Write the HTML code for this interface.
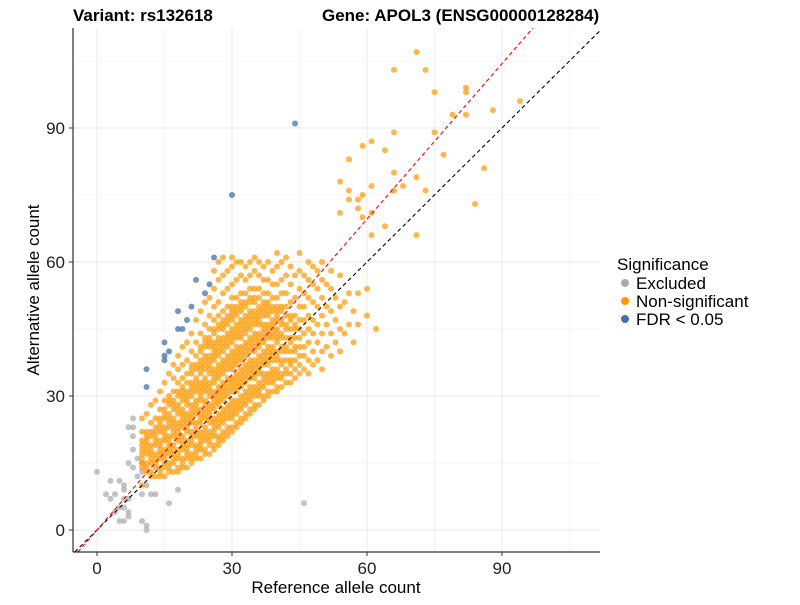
<!DOCTYPE html>
<html><head><meta charset="utf-8"><style>
body{margin:0;background:#fff;font-family:"Liberation Sans",sans-serif}
svg text{font-family:"Liberation Sans",sans-serif}
</style></head><body>
<svg id="chart" width="800" height="600" viewBox="0 0 800 600" xmlns="http://www.w3.org/2000/svg">
<text x="73" y="21" font-size="17" font-weight="bold">Variant: rs132618</text>
<text x="322" y="21" font-size="17" font-weight="bold">Gene: APOL3 (ENSG00000128284)</text>
<g id="grid"></g>
<g id="pts"></g>
<g id="lines"></g>
<g id="axes"></g>
<text x="336" y="593" font-size="17" text-anchor="middle">Reference allele count</text>
<text transform="translate(39,290) rotate(-90)" font-size="17" text-anchor="middle">Alternative allele count</text>
<g>
<text x="617" y="270" font-size="17">Significance</text>
<g><circle cx="625" cy="283" r="4" fill="#aaaaaa"/><text x="636" y="289" font-size="17">Excluded</text></g>
<g><circle cx="625" cy="301" r="4" fill="#ff9900"/><text x="636" y="307" font-size="17">Non-significant</text></g>
<g><circle cx="625" cy="319" r="4" fill="#4471a8"/><text x="636" y="325" font-size="17">FDR &lt; 0.05</text></g>
</g>
</svg>
<script>
const xTicks=[0,30,60,90];
const yTicks=[0,30,60,90];
const minorTicks=[15,45,75,105];
const orangeCols=[
[10,[10,14,15,16,17,18,19,20,22,25]],
[11,[13,14,15,17,18,19,20,21,22,26]],
[12,[12,13,15,16,17,18,19,21,22,24,28]],
[13,[12,14,15,16,17,19,20,21,22,23,25,29]],
[14,[12,13,14,16,17,18,19,20,22,23,24,25,27,31]],
[15,[12,14,15,16,17,18,20,21,22,23,25,26,27,29,33]],
[16,[13,14,15,17,18,19,20,21,23,24,25,26,28,29,30,35]],
[17,[13,15,16,17,18,19,21,22,23,24,25,27,28,29,31,34,37]],
[18,[13,14,16,17,18,20,21,22,23,24,26,27,28,30,31,33,36,39]],
[19,[14,15,16,18,19,20,21,23,24,25,26,27,29,30,31,32,34,37,41]],
[20,[14,16,17,18,19,20,22,23,24,25,26,28,29,30,31,33,35,38,42]],
[21,[15,16,17,19,20,21,22,24,25,26,27,28,30,31,32,33,35,36,37,40,44]],
[22,[16,17,18,19,21,22,23,24,26,27,28,29,31,32,33,34,36,37,39,42,47]],
[23,[16,18,19,20,21,22,24,25,26,27,29,30,31,32,33,35,36,37,38,40,41,44,49]],
[24,[17,18,20,21,22,23,25,26,27,28,29,31,32,33,34,36,37,38,39,41,42,43,46,51]],
[25,[17,19,20,21,22,24,25,26,27,28,30,31,32,33,35,36,37,38,39,41,42,43,45,48,52]],
[26,[18,19,21,22,23,24,25,27,28,29,30,31,33,34,35,36,38,39,40,41,42,44,45,47,50,54,58]],
[27,[19,20,21,23,24,25,26,28,29,30,31,32,34,35,36,37,39,40,41,42,43,45,46,48,51,56,60]],
[28,[20,21,22,24,25,26,27,29,30,31,32,33,35,36,37,38,40,41,42,43,45,46,47,49,53,57,61]],
[29,[21,22,23,25,26,27,28,30,31,32,33,34,36,37,38,39,41,42,43,44,46,47,48,50,54,58]],
[30,[22,23,25,26,27,28,29,31,32,33,34,36,37,38,39,40,42,43,44,45,47,48,49,50,52,55,59,61]],
[31,[23,24,26,27,28,29,31,32,33,34,35,37,38,39,40,41,43,44,45,46,48,49,50,52,56,60]],
[32,[24,25,27,28,29,30,32,33,34,35,36,38,39,40,41,43,44,45,46,47,49,50,51,53,57,60]],
[33,[25,26,28,29,30,31,33,34,35,36,37,39,40,41,42,44,45,46,47,48,50,51,53,56,59]],
[34,[26,27,29,30,31,32,34,35,36,37,38,40,41,42,43,45,46,47,48,49,51,52,54,57,60]],
[35,[27,28,30,31,32,34,35,36,37,38,40,41,42,43,44,46,47,48,49,51,52,54,58,61]],
[36,[28,30,31,32,33,35,36,37,38,39,41,42,43,44,46,47,48,49,50,52,54,57,60]],
[37,[29,30,32,33,34,35,37,38,39,40,42,43,44,45,46,48,49,50,51,53,56,59]],
[38,[30,31,33,34,35,37,38,39,40,41,43,44,45,46,48,49,50,51,53,56,60]],
[39,[31,33,34,35,36,38,39,40,41,43,44,45,46,47,49,50,52,55,58]],
[40,[31,32,34,35,36,38,39,40,42,43,44,45,47,48,49,50,52,55,59,62]],
[41,[32,34,35,37,38,40,41,43,44,46,47,49,50,53,56,60]],
[42,[33,35,36,38,40,41,43,45,46,48,50,53,57,61]],
[43,[33,35,37,38,40,42,43,45,47,48,51,55,59]],
[44,[34,36,38,40,41,43,45,46,48,52,57]],
[45,[35,37,39,41,43,45,47,50,54,58,62]],
[46,[36,39,41,44,47,50,53,57]],
[47,[35,38,42,45,48,52,56,60]],
[48,[37,40,44,47,51,55,59]],
[49,[38,42,46,50,54,58]],
[50,[36,40,44,48,52,56,60]],
[51,[41,46,50,55]],
[52,[39,44,49,54,58]],
[53,[42,47,52]],
[54,[40,45,50,57,71,78]],
[55,[44,51]],
[56,[46,53,74,76,83]],
[57,[42,49]],
[58,[46,53,72,74]],
[59,[70,75,86]],
[60,[48,54]],
[61,[66,71,77,87]],
[62,[45]],
[64,[68,85]],
[66,[76,80,89,103]],
[68,[77]],
[71,[66,79,107]],
[73,[76,103]],
[75,[89,98]],
[77,[84]],
[79,[93]],
[82,[93,98,99]],
[84,[73]],
[86,[81]],
[88,[94]],
[94,[96]]];
const grayRef=[0,8,7,8,8,8,7,8,9,10,9,10,3,5,2,4,6,6,3,6,7,5,6,4,7,7,5,6,10,12,13,11,10,11,11,16,18,46];
const grayAlt=[13,25,23,23,21,18,15,14,16,15,12,13,11,11,8,8,9,10,7,7,7,5,5,4,4,3,2,2,8,8,8,10,2,1,0,6,9,6];
const blueRef=[44,30,26,22,24,25,18,20,18,19,15,15,15,11,11,21,16];
const blueAlt=[91,75,61,56,53,55,49,47,45,45,42,39,38,36,32,50,40];
const slopes=[1,1.16];
const NS='http://www.w3.org/2000/svg';
const X0=73,X1=600,Y0=28,Y1=552;
const xs=v=>97+v*4.5, ys=v=>530-v*4.467;
function mk(t,a,p){const e=document.createElementNS(NS,t);for(const k in a)e.setAttribute(k,a[k]);p.appendChild(e);return e;}
const grid=document.getElementById('grid');
minorTicks.forEach(t=>{
  if(xs(t)<X1){const l=mk('line',{x1:xs(t),x2:xs(t),y1:Y0,y2:Y1,stroke:'#f2f2f2','stroke-width':0.7},grid);
  }
  if(ys(t)>Y0){const l=mk('line',{x1:X0,x2:X1,y1:ys(t),y2:ys(t),stroke:'#f2f2f2','stroke-width':0.7},grid);
  }
});
xTicks.forEach(t=>{const l=mk('line',{x1:xs(t),x2:xs(t),y1:Y0,y2:Y1,stroke:'#e8e8e8','stroke-width':1},grid);
});
yTicks.forEach(t=>{const l=mk('line',{x1:X0,x2:X1,y1:ys(t),y2:ys(t),stroke:'#e8e8e8','stroke-width':1},grid);
});
const pts=document.getElementById('pts');
function dot(x,y,c,op,name){const e=mk('circle',{cx:xs(x),cy:ys(y),r:3,fill:c,'fill-opacity':op},pts);

}
grayRef.forEach((x,i)=>dot(x,grayAlt[i],'#aaaaaa',0.7,'point-excluded'));
orangeCols.forEach(([x,arr])=>arr.forEach(y=>dot(x,y,'#ff9900',0.7,'point-non-significant')));
blueRef.forEach((x,i)=>dot(x,blueAlt[i],'#4471a8',0.75,'point-fdr'));
const lines=document.getElementById('lines');
const xmin=(X0-97)/4.5, xmax=(X1-97)/4.5, ymax=(530-Y0)/4.467, ymin=(530-Y1)/4.467;
slopes.forEach((s,i)=>{
  let xa=Math.max(xmin,ymin/s), xb=Math.min(xmax,ymax/s);
  const l=mk('line',{x1:xs(xa),y1:ys(xa*s),x2:xs(xb),y2:ys(xb*s),stroke:i?'#ff0000':'#000','stroke-width':1.1,'stroke-dasharray':'4,3'},lines);
  
  
});
const axes=document.getElementById('axes');
mk('line',{x1:X0,x2:X0,y1:Y0,y2:Y1,stroke:'#000','stroke-width':1},axes);
mk('line',{x1:X0,x2:X1,y1:Y1,y2:Y1,stroke:'#000','stroke-width':1},axes);
xTicks.forEach(t=>{mk('line',{x1:xs(t),x2:xs(t),y1:Y1,y2:Y1+4,stroke:'#333'},axes);
const tx=mk('text',{x:xs(t),y:Y1+22,'font-size':17,'text-anchor':'middle',fill:'#222'},axes);tx.textContent=t;
});
yTicks.forEach(t=>{mk('line',{x1:X0-4,x2:X0,y1:ys(t),y2:ys(t),stroke:'#333'},axes);
const tx=mk('text',{x:X0-8,y:ys(t)+6,'font-size':17,'text-anchor':'end',fill:'#222'},axes);tx.textContent=t;
});
</script>
</body></html>
